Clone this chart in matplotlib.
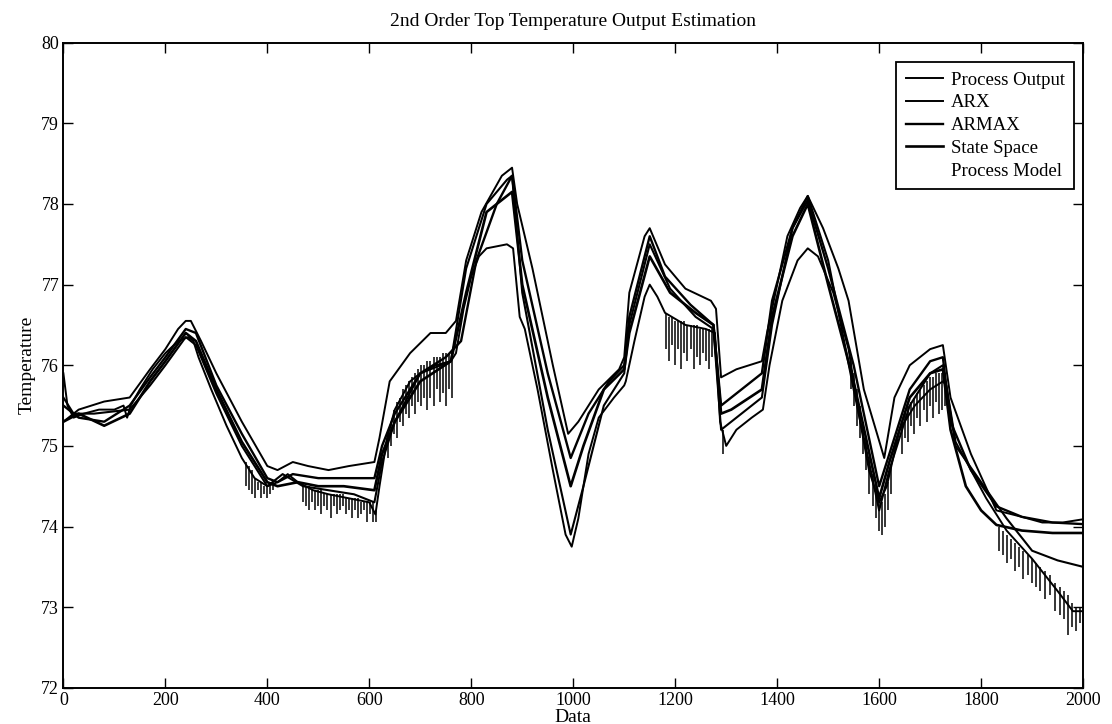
import matplotlib
matplotlib.use("Agg")
import matplotlib.pyplot as plt

# measured process output (base trace)
po_x = [0, 8, 20, 40, 70, 100, 118, 125, 132, 150, 175, 200, 225, 245, 255, 265, 290, 320,
        350, 375, 400, 420, 440, 460, 490, 520, 560, 600, 612, 620, 635, 650, 680, 700, 730,
        760, 770, 785, 800, 815, 830, 870, 882, 895, 905, 930, 960, 985, 997, 1010, 1030, 1050,
        1080, 1100, 1103, 1120, 1140, 1150, 1165, 1180, 1220, 1260, 1278, 1288, 1300, 1320, 1350,
        1372, 1385, 1410, 1440, 1460, 1480, 1510, 1540, 1560, 1580, 1600, 1615, 1640, 1670,
        1700, 1725, 1732, 1750, 1780, 1810, 1850, 1900, 1950, 1980, 2000]
po_y = [75.9, 75.5, 75.35, 75.4, 75.45, 75.45, 75.5, 75.35, 75.5, 75.7, 75.95, 76.15, 76.3,
        76.35, 76.3, 76.1, 75.7, 75.25, 74.85, 74.6, 74.5, 74.55, 74.65, 74.55, 74.45, 74.4,
        74.35, 74.3, 74.15, 74.5, 75.1, 75.45, 75.8, 75.9, 76.0, 76.05, 76.15, 76.7, 77.1, 77.35,
        77.45, 77.5, 77.45, 76.6, 76.45, 75.7, 74.7, 73.9, 73.75, 74.1, 74.9, 75.35, 75.6,
        75.75, 75.8, 76.3, 76.85, 77.0, 76.85, 76.65, 76.5, 76.45, 76.4, 75.3, 75.0, 75.2, 75.35,
        75.45, 76.0, 76.8, 77.3, 77.45, 77.35, 76.9, 76.2, 75.4, 74.7, 74.3, 74.5, 75.2, 75.5,
        75.7, 75.8, 75.75, 75.05, 74.7, 74.35, 73.95, 73.6, 73.2, 72.95, 72.95]

# downward noise spikes of the process output
spike_x = [358, 364, 370, 376, 382, 388, 394, 400, 406, 412,
           470, 476, 482, 488, 494, 500, 506, 512, 518, 524, 530, 536, 542, 548, 554, 560, 566,
           572, 578, 584, 590, 596, 602, 608, 613,
           636, 642, 648, 654, 660, 666, 672, 678, 684, 690, 696, 702, 708, 714, 720, 726, 732,
           738, 744, 750, 756, 762,
           1182, 1188, 1194, 1200, 1206, 1212, 1218, 1224, 1230, 1236, 1242, 1248, 1254, 1260,
           1266, 1272, 1293,
           1545, 1551, 1557, 1563, 1569, 1575, 1581, 1587, 1593, 1599, 1605, 1611, 1617, 1623,
           1645, 1651, 1657, 1663, 1669, 1675, 1681, 1687, 1693, 1699, 1705, 1711, 1717, 1723, 1729,
           1835, 1843, 1851, 1859, 1867, 1875, 1883, 1891, 1899, 1907, 1915, 1925, 1935, 1945,
           1955, 1963, 1971, 1979, 1986, 1993]
spike_top = [74.8, 74.75, 74.7, 74.6, 74.55, 74.55, 74.5, 74.5, 74.5, 74.55,
             74.5, 74.5, 74.5, 74.45, 74.45, 74.45, 74.45, 74.4, 74.4, 74.4, 74.4, 74.4, 74.4,
             74.4, 74.35, 74.35, 74.35, 74.35, 74.35, 74.3, 74.3, 74.3, 74.3, 74.3, 74.2,
             75.15, 75.3, 75.45, 75.55, 75.6, 75.7, 75.75, 75.8, 75.85, 75.9, 75.95, 76.0, 76.0,
             76.05, 76.05, 76.1, 76.1, 76.1, 76.15, 76.15, 76.15, 76.15,
             76.65, 76.6, 76.6, 76.55, 76.55, 76.55, 76.55, 76.5, 76.5, 76.5, 76.5, 76.45, 76.45,
             76.45, 76.45, 76.45, 75.2,
             76.1, 75.9, 75.7, 75.5, 75.3, 75.1, 74.85, 74.65, 74.5, 74.35, 74.3, 74.4, 74.55, 74.75,
             75.3, 75.4, 75.5, 75.55, 75.6, 75.65, 75.7, 75.75, 75.8, 75.85, 75.85, 75.9, 75.9,
             75.9, 75.85,
             74.0, 73.95, 73.9, 73.85, 73.8, 73.75, 73.7, 73.65, 73.6, 73.55, 73.5, 73.45, 73.4,
             73.3, 73.25, 73.2, 73.15, 73.05, 73.0, 73.0]
spike_bot = [74.5, 74.45, 74.4, 74.35, 74.45, 74.35, 74.4, 74.35, 74.4, 74.45,
             74.3, 74.25, 74.2, 74.3, 74.2, 74.25, 74.15, 74.25, 74.2, 74.1, 74.25, 74.15, 74.2,
             74.25, 74.15, 74.2, 74.1, 74.2, 74.1, 74.15, 74.2, 74.05, 74.15, 74.05, 74.05,
             74.85, 75.0, 75.15, 75.1, 75.3, 75.25, 75.4, 75.35, 75.5, 75.4, 75.55, 75.5, 75.6,
             75.45, 75.6, 75.5, 75.7, 75.55, 75.65, 75.5, 75.7, 75.6,
             76.2, 76.05, 76.25, 76.0, 76.2, 75.95, 76.15, 76.05, 76.2, 75.95, 76.1, 76.0, 76.15,
             76.05, 75.95, 76.1, 74.9,
             75.7, 75.5, 75.25, 75.1, 74.9, 74.7, 74.4, 74.25, 74.1, 73.95, 73.9, 74.0, 74.2, 74.4,
             74.9, 75.1, 75.05, 75.25, 75.15, 75.35, 75.25, 75.45, 75.3, 75.5, 75.35, 75.55, 75.4,
             75.45, 75.5,
             73.7, 73.65, 73.55, 73.6, 73.45, 73.5, 73.35, 73.4, 73.3, 73.25, 73.2, 73.1, 73.15,
             72.95, 72.9, 72.85, 72.65, 72.75, 72.7, 72.8]

# model estimates
arx_x = [0, 30, 80, 130, 170, 200, 225, 240, 250, 270, 300, 350, 400, 420, 450, 480, 520, 560,
         610, 620, 640, 680, 720, 750, 770, 790, 820, 860, 880, 890, 920, 960, 990, 1010, 1050,
         1090, 1100, 1110, 1140, 1150, 1180, 1220, 1270, 1280, 1290, 1320, 1370, 1380, 1420,
         1445, 1460, 1490, 1520, 1540, 1570, 1610, 1630, 1660, 1700, 1725, 1740, 1780, 1830,
         1880, 1920, 1960, 2000]
arx_y = [75.3, 75.45, 75.55, 75.6, 75.95, 76.2, 76.45, 76.55, 76.55, 76.3, 75.9, 75.3, 74.75,
         74.7, 74.8, 74.75, 74.7, 74.75, 74.8, 75.1, 75.8, 76.15, 76.4, 76.4, 76.55, 77.3, 77.9,
         78.35, 78.45, 78.0, 77.2, 76.0, 75.15, 75.3, 75.7, 75.95, 76.1, 76.9, 77.6, 77.7, 77.25,
         76.95, 76.8, 76.7, 75.85, 75.95, 76.05, 76.4, 77.6, 77.95, 78.1, 77.7, 77.2, 76.8, 75.7,
         74.85, 75.6, 76.0, 76.2, 76.25, 75.6, 74.9, 74.2, 74.12, 74.05, 74.05, 74.09]

armax_x = [0, 30, 80, 130, 170, 200, 240, 260, 300, 350, 400, 420, 450, 500, 550, 610, 625,
           650, 700, 750, 780, 810, 850, 880, 900, 950, 995, 1030, 1070, 1100, 1110, 1150, 1180,
           1230, 1275, 1290, 1310, 1370, 1390, 1430, 1460, 1500, 1550, 1600, 1620, 1660, 1700,
           1725, 1740, 1780, 1830, 1880, 1940, 2000]
armax_y = [75.5, 75.35, 75.3, 75.5, 75.85, 76.1, 76.45, 76.4, 75.75, 75.15, 74.6, 74.55, 74.65,
           74.6, 74.6, 74.6, 75.0, 75.4, 75.9, 76.1, 76.3, 77.3, 78.0, 78.35, 77.3, 75.9, 74.85,
           75.4, 75.8, 76.0, 76.6, 77.6, 77.1, 76.75, 76.5, 75.5, 75.6, 75.9, 76.8, 77.7, 78.05,
           77.2, 76.0, 74.5, 74.9, 75.7, 76.05, 76.1, 75.3, 74.7, 74.25, 74.12, 74.05, 74.03]

ss_x = [0, 30, 80, 130, 170, 200, 240, 260, 300, 350, 400, 420, 460, 500, 550, 610, 625, 650,
        700, 760, 790, 830, 880, 900, 950, 995, 1020, 1060, 1100, 1110, 1150, 1190, 1240, 1275,
        1290, 1310, 1370, 1390, 1430, 1460, 1500, 1550, 1600, 1620, 1660, 1700, 1725, 1740,
        1770, 1800, 1830, 1880, 1940, 2000]
ss_y = [75.3, 75.4, 75.25, 75.4, 75.8, 76.05, 76.4, 76.3, 75.7, 75.05, 74.55, 74.5, 74.55,
        74.5, 74.5, 74.45, 74.9, 75.3, 75.8, 76.05, 76.9, 77.9, 78.15, 77.0, 75.6, 74.5, 75.0,
        75.7, 75.95, 76.4, 77.35, 76.9, 76.65, 76.5, 75.4, 75.45, 75.7, 76.6, 77.6, 78.0, 77.0,
        75.8, 74.35, 74.8, 75.6, 75.9, 75.95, 75.2, 74.5, 74.2, 74.02, 73.95, 73.92, 73.92]

pm_x = [0, 20, 60, 130, 170, 200, 240, 260, 300, 350, 400, 430, 470, 520, 570, 610, 625, 650,
        700, 760, 790, 830, 870, 880, 900, 950, 995, 1020, 1060, 1100, 1110, 1150, 1190, 1240,
        1275, 1290, 1310, 1370, 1390, 1430, 1460, 1500, 1550, 1600, 1620, 1660, 1700, 1725,
        1750, 1800, 1850, 1900, 1950, 2000]
pm_y = [75.6, 75.4, 75.4, 75.45, 75.75, 76.0, 76.35, 76.25, 75.65, 75.0, 74.5, 74.65, 74.5,
        74.45, 74.4, 74.3, 74.8, 75.3, 75.9, 76.05, 77.2, 78.0, 78.3, 78.35, 76.9, 75.2, 73.9,
        74.5, 75.5, 75.9, 76.5, 77.5, 76.95, 76.6, 76.45, 75.2, 75.3, 75.6, 76.5, 77.7, 78.1,
        77.3, 75.7, 74.2, 74.7, 75.5, 75.9, 76.0, 75.0, 74.55, 74.1, 73.7, 73.58, 73.5]

plt.rcParams['font.family'] = 'Liberation Serif'
fig = plt.figure(figsize=(11.12, 7.24), dpi=100)
ax = fig.add_axes([0.057, 0.050, 0.917, 0.891])

ax.plot(po_x, po_y, color='black', lw=1.4, label='Process Output')
ax.vlines(spike_x, spike_bot, spike_top, color='black', lw=1.1)
ax.plot(arx_x, arx_y, color='black', lw=1.4, label='ARX')
ax.plot(armax_x, armax_y, color='black', lw=1.7, label='ARMAX')
ax.plot(ss_x, ss_y, color='black', lw=1.9, label='State Space')
ax.plot(pm_x, pm_y, color='black', lw=1.5, label='Process Model')

ax.set_xlim(0, 2000)
ax.set_ylim(72, 80)
ax.set_xticks(range(0, 2001, 200))
ax.set_yticks(range(72, 81))
ax.tick_params(direction='in', top=True, right=True, length=7, width=1.0, labelsize=13, pad=3)
for s in ax.spines.values():
    s.set_linewidth(1.4)

ax.set_title('2nd Order Top Temperature Output Estimation', fontsize=14, pad=12)
ax.set_xlabel('Data', fontsize=14, labelpad=0)
ax.set_ylabel('Temperature', fontsize=14, labelpad=4)

leg = ax.legend(loc='upper right', bbox_to_anchor=(0.991, 0.97), fontsize=13.5, frameon=True,
                fancybox=False, edgecolor='black', framealpha=1, handlelength=2.0,
                borderaxespad=0, labelspacing=0.3, handletextpad=0.4, borderpad=0.5)
leg.get_frame().set_linewidth(1.3)
leg.get_lines()[-1].set_visible(False)

fig.savefig('out.png', dpi=100)
